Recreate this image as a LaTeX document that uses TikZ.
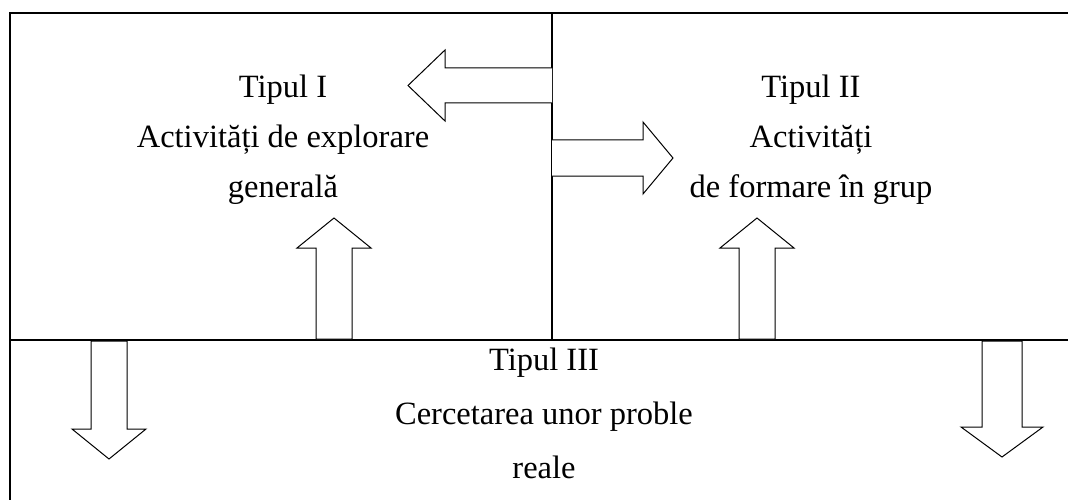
\documentclass[tikz,border=0pt]{standalone}
\usepackage{fontspec}
\setmainfont{Liberation Serif}
\usepackage{tikz}
\usetikzlibrary{calc,positioning}

\begin{document}
\begin{tikzpicture}[x=1pt, y=-1pt, frame/.style={line width=1.6pt}, blk/.style={draw, line width=1pt, fill=white, line join=miter}, lbl/.style={align=center, inner sep=0pt, font=\fontsize{32.5}{50}\selectfont}]
\useasboundingbox (0,0) rectangle (1068,500);
% frame
\coordinate (tl) at (10,13);
\coordinate (tr) at (1068,13);
\coordinate (bl) at (10,500);
\coordinate (mt) at (552,13);
\coordinate (mb) at (552,340);
\coordinate (ml) at (10,340);
\coordinate (mr) at (1068,340);
\draw[frame] (bl) -- (tl) -- (tr);
\draw[frame] (mt) -- (mb);
\draw[frame] (ml) -- (mr);
% texts (base = last line)
\node[lbl, anchor=base] (t1) at (283,197) {Tipul I\\Activități de explorare\\generală};
\node[lbl, anchor=base] (t2) at (811,197) {Tipul II\\Activități\\de formare în grup};
\node[lbl, anchor=base, font=\fontsize{32.5}{54}\selectfont] (t3) at (544,478) {Tipul III\\Cercetarea unor proble\\reale};
% side arrows
\draw[blk] (552,68) -- (445,68) -- (445,50) -- (408,85.5) -- (445,121) -- (445,103) -- (552,103);
\draw[blk] (552,140) -- (643,140) -- (643,122) -- (673,158) -- (643,194) -- (643,176) -- (552,176);
% up arrows
\foreach \x in {334,757}{\draw[blk] (\x-18,339) -- (\x-18,248) -- (\x-37,248) -- (\x,218) -- (\x+37,248) -- (\x+18,248) -- (\x+18,339) -- cycle;}
% down arrows
\foreach \x/\s/\h/\b in {109/18/37/429,1002/20/41/427}{\draw[blk] (\x-\s,341) -- (\x-\s,\b) -- (\x-\h,\b) -- (\x,\b+30) -- (\x+\h,\b) -- (\x+\s,\b) -- (\x+\s,341) -- cycle;}
\end{tikzpicture}
\end{document}
